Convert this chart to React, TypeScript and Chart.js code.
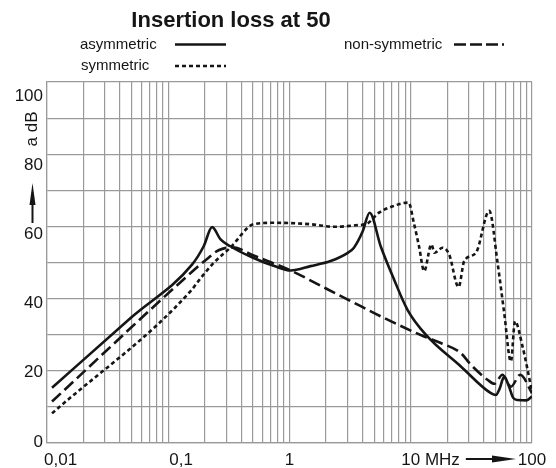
import { useEffect, useRef } from 'react';
import { Chart, registerables } from 'chart.js';

Chart.register(...registerables);

// ---------- data (frequency in MHz, attenuation in dB) ----------
const FREQ_ASYM = [0.011, 0.05, 0.157, 0.196, 0.23, 0.27, 0.325, 0.5, 0.75, 1.02, 1.49, 2.18, 3.0, 3.4, 4.0, 4.58, 5.65, 7.28, 9.4, 13.3, 25.9, 45.8, 50.4, 54, 59, 64, 70, 76, 90, 100];
const DB_ASYM = [15.3, 34.9, 49.4, 54.5, 59.8, 56.4, 54.5, 51.3, 49.0, 47.8, 49.0, 50.4, 52.6, 54.1, 58.5, 63.8, 54.5, 45.3, 36.9, 30.0, 21.2, 13.8, 13.3, 15.0, 18.4, 16.0, 12.5, 11.9, 11.8, 12.9];

const FREQ_SYM = [0.011, 0.157, 0.173, 0.237, 0.325, 0.507, 0.74, 1.5, 2.32, 3.5, 4.38, 5.47, 7.0, 9.6, 10.6, 11.7, 12.9, 14.8, 15.7, 18.3, 20.7, 24.8, 27.6, 34.5, 44.4, 52, 59, 67, 72.4, 83.6, 100];
const DB_SYM = [8.2, 42.5, 44.4, 49.9, 54.1, 60.6, 61.0, 60.6, 59.9, 60.3, 60.8, 63.8, 65.5, 66.6, 61.0, 54.5, 47.6, 55.0, 52.7, 54.1, 52.3, 43.2, 50.4, 52.7, 64.3, 49.9, 36.0, 22.6, 33.7, 26.7, 14.2];

const FREQ_NONSYM = [0.011, 0.143, 0.209, 0.26, 0.34, 0.5, 1.02, 2.0, 3.87, 5.65, 12.9, 17.7, 25.9, 31.3, 43, 49, 57, 67, 80, 100];
const DB_NONSYM = [11.5, 46.2, 51.0, 53.4, 54.2, 52.0, 47.8, 42.8, 37.9, 35.1, 29.5, 27.7, 24.9, 21.7, 17.5, 16.4, 18.9, 15.6, 18.9, 13.8];

const X_GRID = [
  0.01, 0.02, 0.03, 0.04, 0.05, 0.06, 0.07, 0.08, 0.09,
  0.1, 0.2, 0.3, 0.4, 0.5, 0.6, 0.7, 0.8, 0.9,
  1, 2, 3, 4, 5, 6, 7, 8, 9,
  10, 20, 30, 40, 50, 60, 70, 80, 90,
  100,
];
const X_LABEL_VALUES = [0.01, 0.1, 1, 10, 100];
const X_LABELS = ['0,01', '0,1', '1', '10 MHz', '100'];
const Y_LABEL_VALUES = [0, 20, 40, 60, 80, 100];

const TITLE = 'Insertion loss at 50';
const SERIES_NAMES = ['asymmetric', 'symmetric', 'non-symmetric'];
const Y_TITLE = 'a dB';

const FONT = '"Liberation Sans", Arial, Helvetica, sans-serif';
const GRID = '#9a9a9a';
const INK = '#151515';

const toPoints = (xs: number[], ys: number[]) => xs.map((x, i) => ({ x, y: ys[i] }));

const decorPlugin = {
  id: 'decor',
  afterDraw(chart: any) {
    const ctx: CanvasRenderingContext2D = chart.ctx;
    const xs = chart.scales.x;
    const ys = chart.scales.y;
    ctx.save();
    ctx.fillStyle = INK;
    ctx.strokeStyle = INK;

    // title
    ctx.font = `bold 22px ${FONT}`;
    ctx.textAlign = 'center';
    ctx.textBaseline = 'alphabetic';
    ctx.fillText(TITLE, 231, 27);

    // legend
    ctx.font = `15px ${FONT}`;
    ctx.textAlign = 'left';
    ctx.fillText(SERIES_NAMES[0], 80, 49);
    ctx.fillText(SERIES_NAMES[1], 81, 70);
    ctx.fillText(SERIES_NAMES[2], 344, 49);

    ctx.lineWidth = 2.6;
    ctx.setLineDash([]);
    ctx.beginPath();
    ctx.moveTo(175, 44.5);
    ctx.lineTo(226, 44.5);
    ctx.stroke();

    ctx.setLineDash([4, 3]);
    ctx.beginPath();
    ctx.moveTo(175, 66);
    ctx.lineTo(226, 66);
    ctx.stroke();

    ctx.setLineDash([12, 4, 12, 4, 12, 4, 2, 10]);
    ctx.beginPath();
    ctx.moveTo(454, 44.5);
    ctx.lineTo(504, 44.5);
    ctx.stroke();
    ctx.setLineDash([]);

    // y axis title with arrow
    ctx.save();
    ctx.translate(32, 129);
    ctx.rotate(-Math.PI / 2);
    ctx.font = `17px ${FONT}`;
    ctx.textAlign = 'center';
    ctx.textBaseline = 'middle';
    ctx.fillText(Y_TITLE, 0, 0);
    ctx.restore();

    ctx.lineWidth = 2;
    ctx.beginPath();
    ctx.moveTo(32.5, 223);
    ctx.lineTo(32.5, 200);
    ctx.stroke();
    ctx.beginPath();
    ctx.moveTo(32.5, 183);
    ctx.lineTo(35.5, 205);
    ctx.lineTo(29.5, 205);
    ctx.closePath();
    ctx.fill();

    // y labels (slightly drifting below their grid lines, as in the original print)
    ctx.font = `17px ${FONT}`;
    ctx.textAlign = 'right';
    ctx.textBaseline = 'middle';
    Y_LABEL_VALUES.forEach((v) => {
      const py = ys.getPixelForValue(v) - 1 + 0.15 * v;
      ctx.fillText(String(v), ys.right - 4, py);
    });

    // x labels
    ctx.textBaseline = 'alphabetic';
    const base = 465;
    X_LABEL_VALUES.forEach((v, i) => {
      const px = xs.getPixelForValue(v);
      const label = X_LABELS[i];
      if (i === 0) {
        ctx.textAlign = 'left';
        ctx.fillText(label, px - 3, base);
      } else if (i === 1) {
        ctx.textAlign = 'left';
        ctx.fillText(label, px + 1, base);
      } else if (i === 3) {
        ctx.textAlign = 'left';
        const w10 = ctx.measureText('10').width;
        ctx.fillText(label, px - w10 / 2, base);
        const end = ctx.measureText(label).width + px - w10 / 2;
        const a0 = end + 6;
        const a1 = xs.getPixelForValue(100) - 16;
        ctx.lineWidth = 2;
        ctx.beginPath();
        ctx.moveTo(a0, 459);
        ctx.lineTo(a1 - 18, 459);
        ctx.stroke();
        ctx.beginPath();
        ctx.moveTo(a1, 459);
        ctx.lineTo(a1 - 24, 455.5);
        ctx.lineTo(a1 - 24, 462.5);
        ctx.closePath();
        ctx.fill();
      } else {
        ctx.textAlign = 'center';
        ctx.fillText(label, px, base);
      }
    });
    ctx.restore();
  },
};

export default function App() {
  const ref = useRef<HTMLCanvasElement | null>(null);

  useEffect(() => {
    if (!ref.current) return;
    const lineBase = {
      borderColor: INK,
      borderWidth: 2.6,
      pointRadius: 0,
      fill: false,
      cubicInterpolationMode: 'monotone' as const,
    };
    const chart = new Chart(ref.current, {
      type: 'line',
      data: {
        datasets: [
          { ...lineBase, label: SERIES_NAMES[0], data: toPoints(FREQ_ASYM, DB_ASYM) },
          { ...lineBase, label: SERIES_NAMES[1], data: toPoints(FREQ_SYM, DB_SYM), borderDash: [4, 3] },
          { ...lineBase, label: SERIES_NAMES[2], data: toPoints(FREQ_NONSYM, DB_NONSYM), borderDash: [12, 5] },
        ],
      },
      options: {
        animation: false,
        responsive: true,
        maintainAspectRatio: false,
        layout: { padding: { top: 82, right: 24, left: 0, bottom: 0 } },
        plugins: {
          legend: { display: false },
          title: { display: false },
          tooltip: { enabled: false },
        },
        scales: {
          x: {
            type: 'logarithmic',
            min: 0.01,
            max: 100,
            afterBuildTicks: (s: any) => {
              s.ticks = X_GRID.map((v) => ({ value: v }));
            },
            afterFit: (s: any) => {
              s.height = 25;
            },
            grid: { color: GRID, lineWidth: 1.2, drawTicks: false },
            border: { color: GRID, width: 1.2 },
            ticks: { display: false },
          },
          y: {
            type: 'linear',
            min: 0,
            max: 100,
            afterFit: (s: any) => {
              s.width = 47;
            },
            grid: { color: GRID, lineWidth: 1.2, drawTicks: false },
            border: { color: GRID, width: 1.2 },
            ticks: { stepSize: 10, autoSkip: false, display: false },
          },
        },
      },
      plugins: [decorPlugin],
    });
    return () => chart.destroy();
  }, []);

  return (
    <div style={{ position: 'fixed', left: 0, top: 0, width: 556, height: 468, background: '#fff' }}>
      <canvas ref={ref} />
    </div>
  );
}
